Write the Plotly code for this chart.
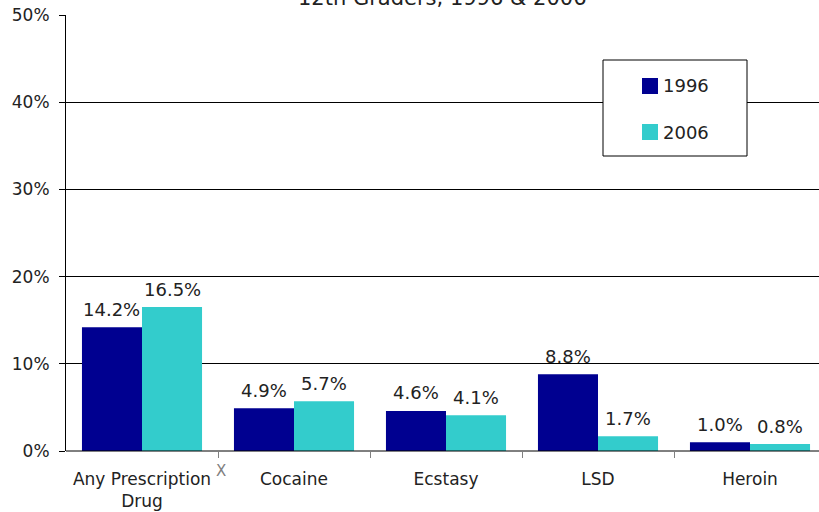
import plotly.graph_objects as go

categories = ["Any Prescription<br>Drug", "Cocaine", "Ecstasy", "LSD", "Heroin"]
values_1996 = [14.2, 4.9, 4.6, 8.8, 1.0]
values_2006 = [16.5, 5.7, 4.1, 1.7, 0.8]
series_names = ["1996", "2006"]
series_colors = ["#000090", "#33CCCC"]
y_ticks = [0, 10, 20, 30, 40, 50]
y_tick_labels = ["0%", "10%", "20%", "30%", "40%", "50%"]
title_text = "12th Graders, 1996 & 2006"

W, H = 819, 512
ml, mr, mt, mb = 66, 0, 15, 61
pw, ph = W - ml - mr, H - mt - mb
unit = 152.0
xmax = -0.5 + pw / unit
bargap = 0.21
half = (1 - bargap) / 4  # offset of each bar centre from category centre

xs = list(range(len(categories)))
font = "DejaVu Sans"
tc = "#222222"

fig = go.Figure()
for k, (name, vals, col) in enumerate(zip(series_names, [values_1996, values_2006], series_colors)):
    fig.add_trace(go.Bar(x=xs, y=vals, name=name, marker_color=col,
                         marker_line_width=0, showlegend=False, hoverinfo="skip"))
    off = -half if k == 0 else half
    for x, v in zip(xs, vals):
        fig.add_annotation(x=x + off, y=v, xref="x", yref="y", text=f"{v:.1f}%",
                           showarrow=False, yanchor="middle", yshift=18,
                           font=dict(size=18, family=font, color=tc))

def px_x(p):
    return (p - ml) / pw

def px_y(p):
    return (H - mb - p) / ph

fig.update_layout(
    width=W, height=H,
    margin=dict(l=ml, r=mr, t=mt, b=mb, autoexpand=False),
    paper_bgcolor="white", plot_bgcolor="white",
    barmode="group", bargap=bargap, bargroupgap=0,
    font=dict(family=font, size=17, color=tc),
    showlegend=False,
    xaxis=dict(range=[-0.5, xmax], tickvals=xs, ticktext=categories, ticks="",
               showline=False, showgrid=False, zeroline=False, automargin=False,
               ticklabelstandoff=16,
               tickfont=dict(size=17, family=font, color=tc),
               minor=dict(tickvals=[0.5, 1.5, 2.5, 3.5], ticks="outside", ticklen=6,
                          tickcolor="#808080", showgrid=False)),
    yaxis=dict(range=[0, 50], tickvals=y_ticks, ticktext=y_tick_labels,
               ticks="outside", ticklen=6, tickcolor="#000000", automargin=False,
               ticklabelstandoff=6,
               showline=True, linecolor="#000000", linewidth=1,
               showgrid=True, gridcolor="#000000", gridwidth=1,
               zeroline=False,
               tickfont=dict(size=17, family=font, color=tc)),
)

# x axis baseline
fig.add_shape(type="line", xref="paper", yref="paper", x0=0, x1=1, y0=0, y1=0,
              line=dict(color="#000000", width=1), layer="above")
# legend box
fig.add_shape(type="rect", xref="paper", yref="paper",
              x0=px_x(603), x1=px_x(747), y0=px_y(156), y1=px_y(60),
              line=dict(color="#000000", width=1), fillcolor="white", layer="above")
for i, (name, col) in enumerate(zip(series_names, series_colors)):
    cy = 86 + 46 * i
    fig.add_shape(type="rect", xref="paper", yref="paper",
                  x0=px_x(642), x1=px_x(658), y0=px_y(cy + 8), y1=px_y(cy - 8),
                  line=dict(width=0), fillcolor=col, layer="above")
    fig.add_annotation(text=name, xref="paper", yref="paper",
                       x=px_x(661), y=px_y(cy), xanchor="left", yanchor="middle",
                       showarrow=False, font=dict(size=18, family=font, color=tc))

fig.add_annotation(text=title_text, xref="paper", yref="paper",
                   x=px_x(442), y=px_y(-2), xanchor="center", yanchor="middle",
                   showarrow=False, font=dict(size=21, family=font, color=tc))
fig.add_annotation(text="X", xref="paper", yref="paper",
                   x=px_x(221), y=px_y(471), xanchor="center", yanchor="middle",
                   showarrow=False, font=dict(size=15, family=font, color="#808080"))

fig.write_html("out.html", config={"displayModeBar": False},
               post_script="document.body.style.margin='0';document.body.style.overflow='hidden';")
